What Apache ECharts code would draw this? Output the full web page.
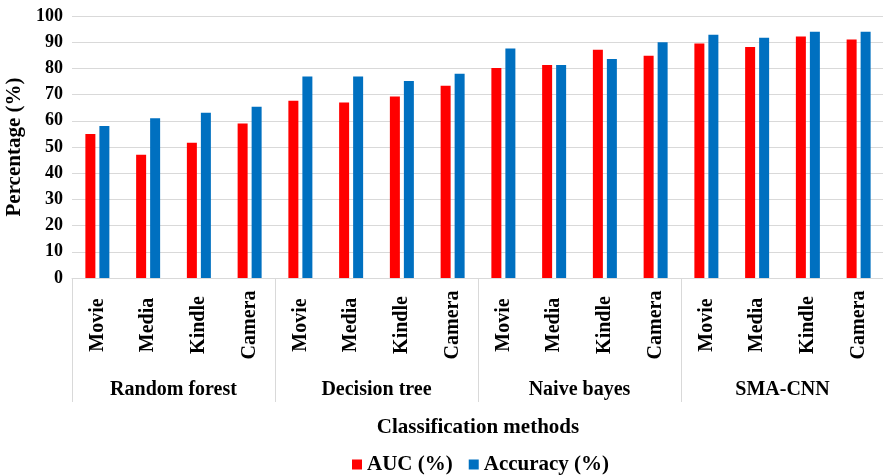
<!DOCTYPE html>
<html>
<head>
<meta charset="utf-8">
<script src="https://cdn.jsdelivr.net/npm/echarts@6/dist/echarts.min.js"></script>
<style>
html,body{margin:0;padding:0;background:#fff;}
#chart{width:883px;height:476px;}
</style>
</head>
<body>
<div id="chart"></div>
<script>
const datasets = ['Movie','Media','Kindle','Camera'];
const methods = ['Random forest','Decision tree','Naive bayes','SMA-CNN'];
const categories = [
  'Movie','Media','Kindle','Camera',
  'Movie','Media','Kindle','Camera',
  'Movie','Media','Kindle','Camera',
  'Movie','Media','Kindle','Camera'
];
const aucValues = [55, 47, 51.6, 59, 67.7, 67, 69.3, 73.4, 80.2, 81.3, 87.1, 84.8, 89.5, 88.2, 92.2, 91];
const accuracyValues = [58, 61, 63.1, 65.4, 76.9, 76.9, 75.2, 78, 87.6, 81.3, 83.6, 90, 92.8, 91.7, 94, 94];
const yTicks = [0,10,20,30,40,50,60,70,80,90,100];

const FONT = "'Liberation Serif','Times New Roman',serif";
const chart = echarts.init(document.getElementById('chart'), null, {renderer:'canvas'});
chart.setOption({
  animation:false,
  backgroundColor:'#fff',
  grid:{left:72, right:-1, top:16, bottom:198, containLabel:false, outerBoundsMode:'none'},
  legend:{
    data:['AUC (%)','Accuracy (%)'],
    left:347, top:449,
    icon:'rect', itemWidth:10, itemHeight:10, itemGap:16,
    textStyle:{fontFamily:FONT, fontWeight:'bold', fontSize:21, color:'#000'}
  },
  xAxis:[
    {
      type:'category', data:categories, position:'bottom',
      axisLine:{show:true, lineStyle:{color:'#d9d9d9', width:1}},
      axisTick:{show:false},
      axisLabel:{interval:0, rotate:90, align:'center', verticalAlign:'middle', margin:47,
        fontFamily:FONT, fontWeight:'bold', fontSize:20, color:'#000'}
    },
    {
      type:'category', data:methods, position:'bottom', offset:0,
      axisLine:{show:false},
      axisTick:{show:true, interval:0, length:124, lineStyle:{color:'#d9d9d9', width:1}},
      axisLabel:{interval:0, margin:102, fontFamily:FONT, fontWeight:'bold', fontSize:20, color:'#000'},
      name:'Classification methods', nameLocation:'middle', nameGap:139,
      nameTextStyle:{fontFamily:FONT, fontWeight:'bold', fontSize:21, color:'#000'}
    }
  ],
  yAxis:{
    type:'value', min:0, max:100, interval:10,
    axisLine:{show:false}, axisTick:{show:false},
    splitLine:{show:true, lineStyle:{color:'#d9d9d9', width:1}},
    axisLabel:{margin:9, fontFamily:FONT, fontWeight:'bold', fontSize:18, color:'#000',
      formatter:function(v){return yTicks.indexOf(v)>=0 ? String(v) : '';}},
    name:'Percentage (%)', nameLocation:'middle', nameGap:38,
    nameTextStyle:{fontFamily:FONT, fontWeight:'bold', fontSize:21, color:'#000'}
  },
  series:[
    {name:'AUC (%)', type:'bar', xAxisIndex:0, data:aucValues, barWidth:10, barGap:'40%',
      itemStyle:{color:'#ff0000'}},
    {name:'Accuracy (%)', type:'bar', xAxisIndex:0, data:accuracyValues, barWidth:10, barGap:'40%',
      itemStyle:{color:'#0070c0'}}
  ]
});
</script>
</body>
</html>
